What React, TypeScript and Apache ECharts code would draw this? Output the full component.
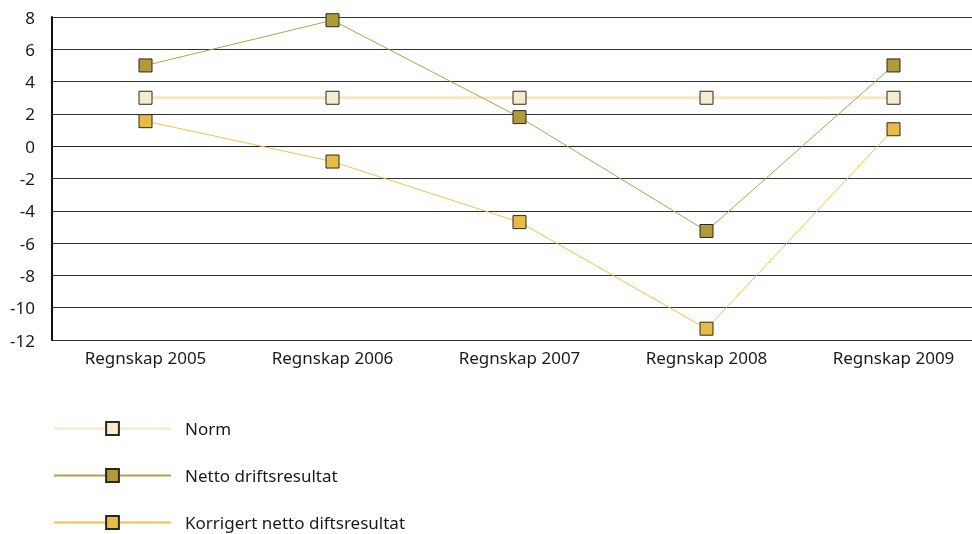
import React, { useEffect, useRef } from "react";
import * as echarts from "echarts";

const categories = ["Regnskap 2005", "Regnskap 2006", "Regnskap 2007", "Regnskap 2008", "Regnskap 2009"];
const normValues = [3, 3, 3, 3, 3];
const nettoValues = [5, 7.8, 1.8, -5.25, 5];
const korrigertValues = [1.55, -0.95, -4.7, -11.3, 1.05];

const FONT = "Noto Sans";

export default function App() {
  const ref = useRef<HTMLDivElement>(null);
  useEffect(() => {
    if (!ref.current) return;
    const chart = echarts.init(ref.current, null, { renderer: "svg" });
    const mk = (name: string, data: number[], fill: string, line: string, width: number) => ({
      name,
      type: "line",
      data,
      symbol: "rect",
      symbolSize: 13,
      itemStyle: { color: fill, borderColor: "#2a2a1a", borderWidth: 1 },
      lineStyle: { color: line, width },
      emphasis: { disabled: true },
    });
    chart.setOption({
      animation: false,
      textStyle: { fontFamily: FONT },
      grid: { left: 52, width: 935, top: 17, height: 323, containLabel: false, outerBoundsMode: "none" },
      xAxis: {
        type: "category",
        data: categories,
        boundaryGap: true,
        axisLine: { show: true, lineStyle: { color: "#222", width: 1 } },
        axisTick: { show: false },
        axisLabel: { color: "#1a1a1a", fontSize: 17, fontFamily: FONT, margin: 9 },
      },
      yAxis: {
        type: "value",
        min: -12,
        max: 8,
        interval: 2,
        axisLine: { show: true, lineStyle: { color: "#111", width: 2 } },
        axisTick: { show: false },
        splitLine: { show: true, lineStyle: { color: "#333", width: 1 } },
        axisLabel: { color: "#1a1a1a", fontSize: 17, fontFamily: FONT, margin: 17 },
      },
      legend: {
        orient: "vertical",
        left: 48,
        top: 415,
        height: 140,
        itemWidth: 117,
        itemHeight: 16,
        itemGap: 30,
        textStyle: { fontSize: 17, color: "#1a1a1a", fontFamily: FONT, padding: [0, 0, 0, 9] },
        data: ["Norm", "Netto driftsresultat", "Korrigert netto diftsresultat"],
      },
      series: [
        mk("Norm", normValues, "#F7EBCF", "#F5E7C6", 3),
        mk("Netto driftsresultat", nettoValues, "#B09A3A", "#B5A04A", 1),
        mk("Korrigert netto diftsresultat", korrigertValues, "#E8BB45", "#EDC250", 1),
      ],
    });
    return () => chart.dispose();
  }, []);
  return <div ref={ref} style={{ width: 972, height: 534, position: "fixed", left: 0, top: 0 }} />;
}
